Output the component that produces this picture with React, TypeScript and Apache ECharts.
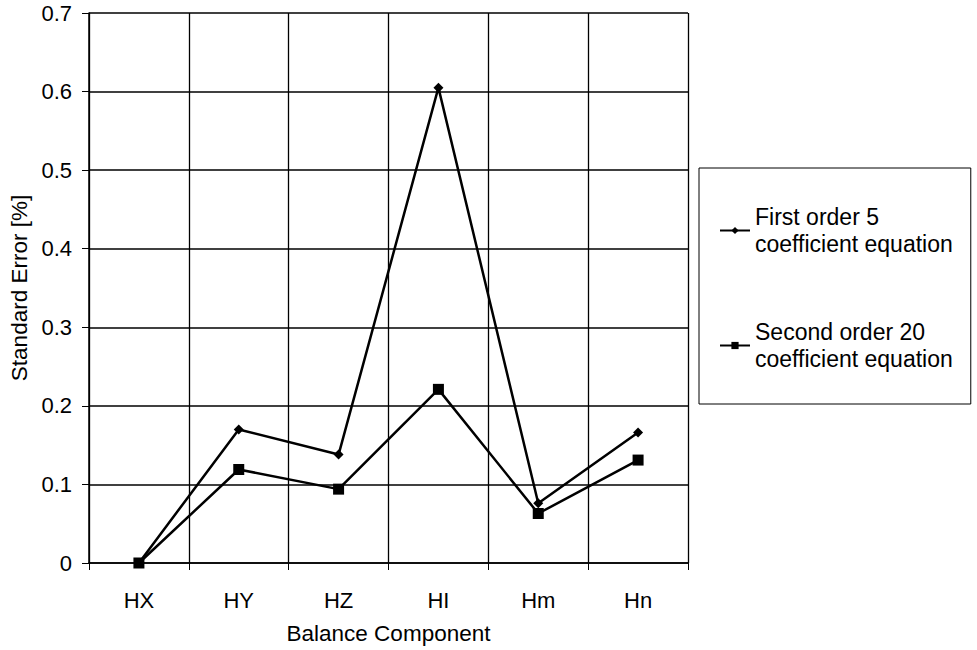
import React, { useEffect, useRef } from "react";
import * as echarts from "echarts";

const categories = ["HX", "HY", "HZ", "HI", "Hm", "Hn"];
const firstOrder = [0, 0.17, 0.138, 0.605, 0.076, 0.166];
const secondOrder = [0, 0.119, 0.094, 0.221, 0.063, 0.131];
const seriesNames = ["First order 5 coefficient equation", "Second order 20 coefficient equation"];
const legendLines: Record<string, string> = {
  "First order 5 coefficient equation": "First order 5\ncoefficient equation",
  "Second order 20 coefficient equation": "Second order 20\ncoefficient equation",
};

const FONT = "Liberation Sans, Arial, Helvetica, sans-serif";

export default function App() {
  const ref = useRef<HTMLDivElement>(null);
  useEffect(() => {
    if (!ref.current) return;
    const chart = echarts.init(ref.current, undefined, { renderer: "svg" });
    chart.setOption({
      animation: false,
      backgroundColor: "#ffffff",
      textStyle: { fontFamily: FONT, color: "#000" },
      grid: { left: 89, right: 289, top: 13, bottom: 87, containLabel: false, outerBoundsMode: "none" },
      xAxis: {
        type: "category",
        data: categories,
        boundaryGap: true,
        name: "Balance Component",
        nameLocation: "middle",
        nameGap: 59,
        nameTextStyle: { fontSize: 22.5, color: "#000", fontFamily: FONT },
        axisLine: { lineStyle: { color: "#000", width: 1.5 } },
        axisTick: { show: true, length: 7, lineStyle: { color: "#000", width: 1 } },
        axisLabel: { margin: 26, fontSize: 22, color: "#000", fontFamily: FONT },
        splitLine: { show: true, lineStyle: { color: "#000", width: 1.3 } },
      },
      yAxis: {
        type: "value",
        min: 0,
        max: 0.7,
        interval: 0.1,
        name: "Standard Error [%]",
        nameLocation: "middle",
        nameGap: 57,
        nameRotate: 90,
        nameTextStyle: { fontSize: 22.5, color: "#000", fontFamily: FONT },
        axisLine: { show: true, lineStyle: { color: "#000", width: 1.5 } },
        axisTick: { show: true, length: 7, lineStyle: { color: "#000", width: 1 } },
        axisLabel: { margin: 17, fontSize: 22, color: "#000", fontFamily: FONT },
        splitLine: { show: true, lineStyle: { color: "#000", width: 1.5 } },
      },
      legend: {
        orient: "vertical",
        left: 699,
        top: 168,
        padding: [22, 18, 18, 20],
        borderColor: "#000",
        borderWidth: 1,
        itemGap: 34,
        itemWidth: 30,
        itemHeight: 9,
        data: seriesNames,
        formatter: (name: string) => legendLines[name] ?? name,
        textStyle: {
          fontSize: 23,
          lineHeight: 27,
          color: "#000",
          fontFamily: FONT,
          padding: [27, 0, 0, 0],
        },
      },
      series: [
        {
          name: seriesNames[0],
          type: "line",
          data: firstOrder,
          symbol: "diamond",
          symbolSize: 10,
          lineStyle: { color: "#000", width: 2.5 },
          itemStyle: { color: "#000" },
        },
        {
          name: seriesNames[1],
          type: "line",
          data: secondOrder,
          symbol: "rect",
          symbolSize: 11,
          lineStyle: { color: "#000", width: 2.5 },
          itemStyle: { color: "#000" },
        },
      ],
    });
    return () => chart.dispose();
  }, []);
  return <div ref={ref} style={{ width: 977, height: 650, position: "absolute", left: 0, top: 0 }} />;
}
